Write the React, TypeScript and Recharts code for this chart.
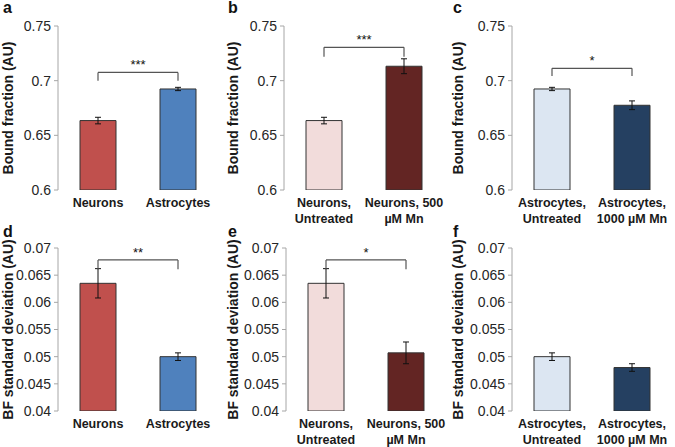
import React from "react";
import { Bar, BarChart, Cell, ErrorBar, ReferenceLine, XAxis, YAxis } from "recharts";

// categories (line breaks follow the reference tick labels)
const cellTypes = ["Neurons", "Astrocytes"];
const neuronTreatments = ["Neurons,\nUntreated", "Neurons, 500\nµM Mn"];
const astroTreatments = ["Astrocytes,\nUntreated", "Astrocytes,\n1000 µM Mn"];

// bound fraction (top row)
const bfCellValues = [0.6635, 0.6924];
const bfCellErrors = [0.003, 0.0015];
const bfNeuronValues = [0.6635, 0.7132];
const bfNeuronErrors = [0.003, 0.0068];
const bfAstroValues = [0.6924, 0.6775];
const bfAstroErrors = [0.0015, 0.004];

// BF standard deviation (bottom row)
const sdCellValues = [0.0635, 0.05];
const sdCellErrors = [0.0027, 0.0007];
const sdNeuronValues = [0.0635, 0.0507];
const sdNeuronErrors = [0.0027, 0.002];
const sdAstroValues = [0.05, 0.048];
const sdAstroErrors = [0.0007, 0.0007];

const bfTicks = [0.6, 0.65, 0.7, 0.75];
const sdTicks = [0.04, 0.045, 0.05, 0.055, 0.06, 0.065, 0.07];

// significance brackets: bar height, drop ends, stars
const bfCellSig = { y: 0.7075, left: 0.7, right: 0.7, stars: "***" };
const bfNeuronSig = { y: 0.7305, left: 0.7219, right: 0.7219, stars: "***" };
const bfAstroSig = { y: 0.7113, left: 0.7043, right: 0.7043, stars: "*" };
const sdCellSig = { y: 0.0678, left: 0.0661, right: 0.0661, stars: "**" };
const sdNeuronSig = { y: 0.0678, left: 0.0661, right: 0.0661, stars: "*" };

const RED = "#C0504D";
const BLUE = "#4F81BD";
const PINK = "#F2DCDB";
const MAROON = "#632523";
const PALE_BLUE = "#DCE6F2";
const NAVY = "#254061";
const AXIS = "#A6A6A6";
const FONT = "'Liberation Sans', Arial, sans-serif";

type Sig = { y: number; left: number; right: number; stars: string };

type PanelProps = {
  letter: string;
  categories: string[];
  values: number[];
  errors: number[];
  colors: string[];
  ticks: number[];
  yLabel: string;
  sig?: Sig;
  x: number;
  y: number;
  h: number;
  plotLeft: number;
  plotRight: number;
  plotTop: number;
  plotBottom: number;
};

function CatTick(props: any) {
  const { x, y, payload } = props;
  const lines = String(payload.value).split("\n");
  return (
    <text x={x} y={y} textAnchor="middle" fill="#1a1a1a" fontFamily={FONT} fontWeight="bold" fontSize={12.5}>
      {lines.map((l, i) => (
        <tspan key={i} x={x} dy={i === 0 ? 11 : 15.5}>
          {l}
        </tspan>
      ))}
    </text>
  );
}

function Panel(p: PanelProps) {
  const data = p.categories.map((c, i) => ({ name: c, value: p.values[i], err: p.errors[i] }));
  const W = 225;
  const domain: [number, number] = [p.ticks[0], p.ticks[p.ticks.length - 1]];
  const fmt = (v: number) => String(Number(v.toFixed(3)));
  return (
    <div style={{ position: "absolute", left: p.x, top: p.y, width: W, height: p.h }}>
      <div
        style={{
          position: "absolute",
          left: 3,
          top: 0,
          lineHeight: "16px",
          fontFamily: FONT,
          fontWeight: "bold",
          fontSize: 16,
          color: "#111",
        }}
      >
        {p.letter}
      </div>
      <BarChart
        width={W}
        height={p.h}
        data={data}
        margin={{ top: p.plotTop, right: W - p.plotRight, bottom: 0, left: 0 }}
        barSize={36}
      >
        <XAxis xAxisId="grid" type="number" domain={[0, 2]} ticks={[0, 1, 2]} allowDataOverflow height={0}
          tick={false} tickSize={4} tickLine={{ stroke: AXIS }} axisLine={{ stroke: AXIS }} />
        <XAxis xAxisId="cat" dataKey="name" height={p.h - p.plotBottom} tickLine={false} axisLine={false}
          tick={<CatTick />} interval={0} tickMargin={0} />
        <XAxis xAxisId="top" orientation="top" height={0} tick={false} tickLine={false}
          axisLine={{ stroke: AXIS }} dataKey="name" />
        <YAxis yAxisId="val" domain={domain} ticks={p.ticks} allowDataOverflow width={p.plotLeft}
          tickFormatter={fmt} tickSize={4} tickMargin={3}
          tick={{ fill: "#262626", fontSize: 14, fontFamily: FONT }}
          tickLine={{ stroke: AXIS }} axisLine={{ stroke: AXIS }}
          label={{ value: p.yLabel, angle: -90, position: "insideLeft", offset: 8,
            style: { textAnchor: "middle", fontFamily: FONT, fontWeight: "bold", fontSize: 14, fill: "#1a1a1a" } }} />
        <YAxis yAxisId="right" orientation="right" width={0} domain={domain} tick={false} tickLine={false}
          axisLine={{ stroke: AXIS }} />
        <Bar xAxisId="cat" yAxisId="val" dataKey="value" stroke="#333" strokeWidth={1} isAnimationActive={false}>
          {data.map((_, i) => (
            <Cell key={i} fill={p.colors[i]} />
          ))}
          <ErrorBar dataKey="err" width={3} stroke="#111" strokeWidth={1} direction="y" />
        </Bar>
        {p.sig && (
          <ReferenceLine xAxisId="cat" yAxisId="val" stroke="#555" strokeWidth={1.2}
            segment={[{ x: p.categories[0], y: p.sig.y }, { x: p.categories[1], y: p.sig.y }]}
            label={{ value: p.sig.stars, position: "top", offset: 3, fill: "#111", fontSize: 13, fontFamily: FONT }} />
        )}
        {p.sig && (
          <ReferenceLine xAxisId="cat" yAxisId="val" stroke="#555" strokeWidth={1.2}
            segment={[{ x: p.categories[0], y: p.sig.y }, { x: p.categories[0], y: p.sig.left }]} />
        )}
        {p.sig && (
          <ReferenceLine xAxisId="cat" yAxisId="val" stroke="#555" strokeWidth={1.2}
            segment={[{ x: p.categories[1], y: p.sig.y }, { x: p.categories[1], y: p.sig.right }]} />
        )}
      </BarChart>
    </div>
  );
}

export default function App() {
  const top = { y: 0, h: 224, plotTop: 26, plotBottom: 190 };
  const bot = { y: 224, h: 223, plotTop: 24, plotBottom: 187 };
  const bfLabel = "Bound fraction (AU)";
  const sdLabel = "BF standard deviation (AU)";
  return (
    <div style={{ position: "absolute", left: 0, top: 0, width: 675, height: 447, background: "#fff", overflow: "hidden" }}>
      <style>{"svg.recharts-surface{overflow:visible}"}</style>
      <Panel letter="a" categories={cellTypes} values={bfCellValues} errors={bfCellErrors} colors={[RED, BLUE]}
        ticks={bfTicks} yLabel={bfLabel} sig={bfCellSig} x={0} {...top} plotLeft={58} plotRight={218} />
      <Panel letter="b" categories={neuronTreatments} values={bfNeuronValues} errors={bfNeuronErrors}
        colors={[PINK, MAROON]} ticks={bfTicks} yLabel={bfLabel} sig={bfNeuronSig} x={225} {...top}
        plotLeft={59} plotRight={219} />
      <Panel letter="c" categories={astroTreatments} values={bfAstroValues} errors={bfAstroErrors}
        colors={[PALE_BLUE, NAVY]} ticks={bfTicks} yLabel={bfLabel} sig={bfAstroSig} x={450} {...top}
        plotLeft={62} plotRight={222} />
      <Panel letter="d" categories={cellTypes} values={sdCellValues} errors={sdCellErrors} colors={[RED, BLUE]}
        ticks={sdTicks} yLabel={sdLabel} sig={sdCellSig} x={0} {...bot} plotLeft={58} plotRight={218} />
      <Panel letter="e" categories={neuronTreatments} values={sdNeuronValues} errors={sdNeuronErrors}
        colors={[PINK, MAROON]} ticks={sdTicks} yLabel={sdLabel} sig={sdNeuronSig} x={225} {...bot}
        plotLeft={61} plotRight={221} />
      <Panel letter="f" categories={astroTreatments} values={sdAstroValues} errors={sdAstroErrors}
        colors={[PALE_BLUE, NAVY]} ticks={sdTicks} yLabel={sdLabel} x={450} {...bot}
        plotLeft={62} plotRight={222} />
    </div>
  );
}
